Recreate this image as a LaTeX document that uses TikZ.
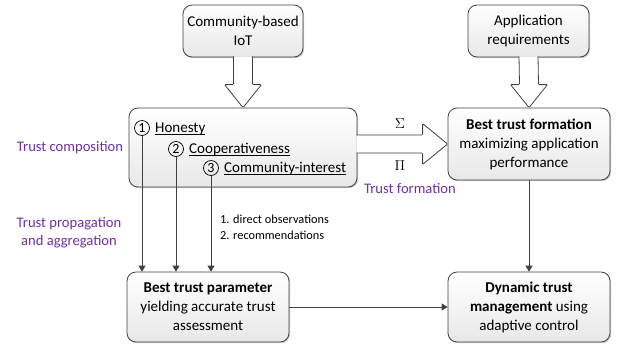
\documentclass[tikz,border=0pt]{standalone}
\usepackage{fontspec}
\setmainfont{Carlito}
\newcommand\myul[1]{\setbox0\hbox{#1}\rlap{\rule[-2pt]{\wd0}{0.7pt}}\box0}
\usetikzlibrary{calc,shadows,arrows.meta}
\definecolor{lin}{HTML}{404040}
\definecolor{purp}{HTML}{7030A0}
\begin{document}
\begin{tikzpicture}[x=1pt,y=-1pt,
  box/.style={draw=lin, line width=0.8pt, rounded corners=9pt, top color=white, bottom color=black!9,
    drop shadow={shadow xshift=1.2pt, shadow yshift=-1.2pt, fill=black!40, opacity=0.5},
    align=center, inner sep=0pt, font=\fontsize{15}{19}\selectfont},
  fat/.style={draw=lin, line width=0.8pt, fill=white, rounded corners=1pt},
  conn/.style={draw=lin, line width=0.8pt, -{Triangle[length=6pt,width=7pt]}},
  lab/.style={text=purp, font=\fontsize{14.6}{18}\selectfont, align=center},
  num/.style={circle, draw=black, line width=0.7pt, inner sep=0pt, minimum size=15pt, font=\fontsize{14}{14}\selectfont},
  item/.style={anchor=west, inner sep=0pt, font=\fontsize{15}{19}\selectfont},
  small/.style={align=left, anchor=west, font=\fontsize{12.3}{16}\selectfont, inner sep=0pt}]
\useasboundingbox (0,0) rectangle (628,349);

\node[box, minimum width=120pt, minimum height=52pt] (A) at (243,31) {Community-based\\IoT};
\node[box, minimum width=121pt, minimum height=52pt] (B) at (528.5,31) {Application\\requirements};
\node[box, minimum width=228pt, minimum height=79pt] (C) at (243,147.5) {};
\node[box, minimum width=162pt, minimum height=72pt] (D) at (529,144) {\textbf{Best trust formation}\\maximizing application\\performance};
\node[box, minimum width=162pt, minimum height=70pt] (E) at (208,307) {\textbf{Best trust parameter}\\yielding accurate trust\\assessment};
\node[box, minimum width=162pt, minimum height=70pt] (F) at (529,307) {\textbf{Dynamic trust}\\\textbf{management} using\\adaptive control};

% fat arrows
\draw[fat] ($(A.south)+(-9.5,-1)$) -- ($(C.north)+(-9.5,-23)$) -- ($(C.north)+(-18.5,-23)$) -- (C.north)
  -- ($(C.north)+(18.5,-23)$) -- ($(C.north)+(9.5,-23)$) -- ($(A.south)+(9.5,-1)$);
\draw[fat] ($(B.south)+(-9.5,-1)$) -- ($(D.north)+(-9.5,-23)$) -- ($(D.north)+(-18.5,-23)$) -- (D.north)
  -- ($(D.north)+(18.5,-23)$) -- ($(D.north)+(9.5,-23)$) -- ($(B.south)+(9.5,-1)$);
\coordinate (Ce) at (C.east |- D.west);
\draw[fat] ($(Ce)+(-1,-9)$) -- ($(D.west)+(-25,-9)$) -- ($(D.west)+(-25,-20.5)$) -- (D.west)
  -- ($(D.west)+(-25,20.5)$) -- ($(D.west)+(-25,9)$) -- ($(Ce)+(-1,9)$);

% items
\node[num] (n1) at (142,128) {1};
\node[item] (h1) at (155,129) {\myul{Honesty}};
\node[num] (n2) at (176,149) {2};
\node[item] (h2) at (189,150) {\myul{Cooperativeness}};
\node[num] (n3) at (211,168) {3};
\node[item] (h3) at (224,169) {\myul{Community-interest}};

\draw[conn] (n1.south) -- (n1.south |- E.north);
\draw[conn] (n2.south) -- (n2.south |- E.north);
\draw[conn] (n3.south) -- (n3.south |- E.north);
\draw[conn] (D.south) -- (F.north);
\draw[conn] (E.east) -- (F.west);

% labels
\node[lab] (l1) at (70,148) {Trust composition};
\node[lab] (l2) at (69,233) {Trust propagation\\and aggregation};
\node[lab] (l3) at (410,188) {Trust formation};
\node[small] (obs) at (220,227) {1. direct observations\\2. recommendations};
\node[font=\fontsize{15}{15}\selectfont] (sig) at (400,124) {$\Sigma$};
\node[font=\fontsize{15}{15}\selectfont] (pi) at (400,166) {$\Pi$};
\end{tikzpicture}
\end{document}
